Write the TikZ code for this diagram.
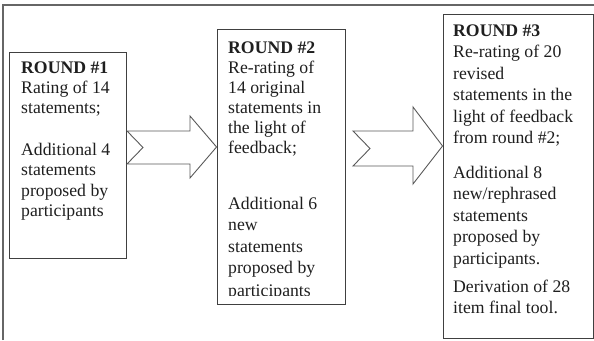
\documentclass[tikz,border=0pt]{standalone}
\usepackage{fontspec}
\setmainfont{Liberation Serif}
\begin{document}
\begin{tikzpicture}[x=1pt,y=-1pt,
  frame/.style={draw=black!60,line width=1.1pt},
  box/.style={draw=black!75,line width=0.9pt,fill=white,inner sep=0pt},
  blockarrow/.style={draw=black!65,line width=0.9pt,fill=white,line join=miter},
  txt/.style={anchor=base west,inner sep=0pt,text=black!88,font=\fontsize{17.7}{21}\selectfont}]
\useasboundingbox (0,0) rectangle (594,340);
% outer frame (only top and left visible)
\draw[frame] (3,340) -- (3,5) -- (594,5);
% boxes
\node[box,minimum width=117pt,minimum height=206pt] (b1) at (67.5,155) {};
\node[box,minimum width=128pt,minimum height=275pt] (b2) at (281,166.5) {};
\node[box,minimum width=150pt,minimum height=324pt] (b3) at (518,176) {};
% block arrows
\coordinate (a1tip) at (b2.west |- 0,147);
\coordinate (a2tip) at (b3.west |- 0,146);
\draw[blockarrow] (127,131) -- (190,131) -- (190,116) -- (a1tip) -- (190,178) -- (190,164) -- (127,164) -- (143,147.5) -- cycle;
\draw[blockarrow] (353,131) -- (413,131) -- (413,107) -- (a2tip) -- (413,184) -- (413,166) -- (353,166) -- (370,148.5) -- cycle;
% box 1 text
\foreach \y/\t [count=\i] in {73/{\textbf{ROUND \#1}},93.5/{Rating of 14},113/{statements;},155/{Additional 4},175.5/{statements},196/{proposed by},216.5/{participants}}
  \node[txt] (t1\i) at (21,\y) {\t};
% box 2 text
\foreach \y/\t [count=\i] in {53/{\textbf{ROUND \#2}},73/{Re-rating of},93/{14 original},113/{statements in},133/{the light of},153/{feedback;},209/{Additional 6},230.5/{new},252/{statements},273.5/{proposed by}}
  \node[txt] (t2\i) at (228,\y) {\t};
\begin{scope}
  \clip (217,29) rectangle (345,295);
  \node[txt] (t2p) at (228,296) {participants};
\end{scope}
% box 3 text
\foreach \y/\t [count=\i] in {36/{\textbf{ROUND \#3}},57.5/{Re-rating of 20},79/{revised},100.5/{statements in the},122/{light of feedback},143.5/{from round \#2;},178/{Additional 8},199.5/{new/rephrased},221/{statements},242.5/{proposed by},264/{participants.},292/{Derivation of 28},313.5/{item final tool.}}
  \node[txt] (t3\i) at (453,\y) {\t};
\end{tikzpicture}
\end{document}
